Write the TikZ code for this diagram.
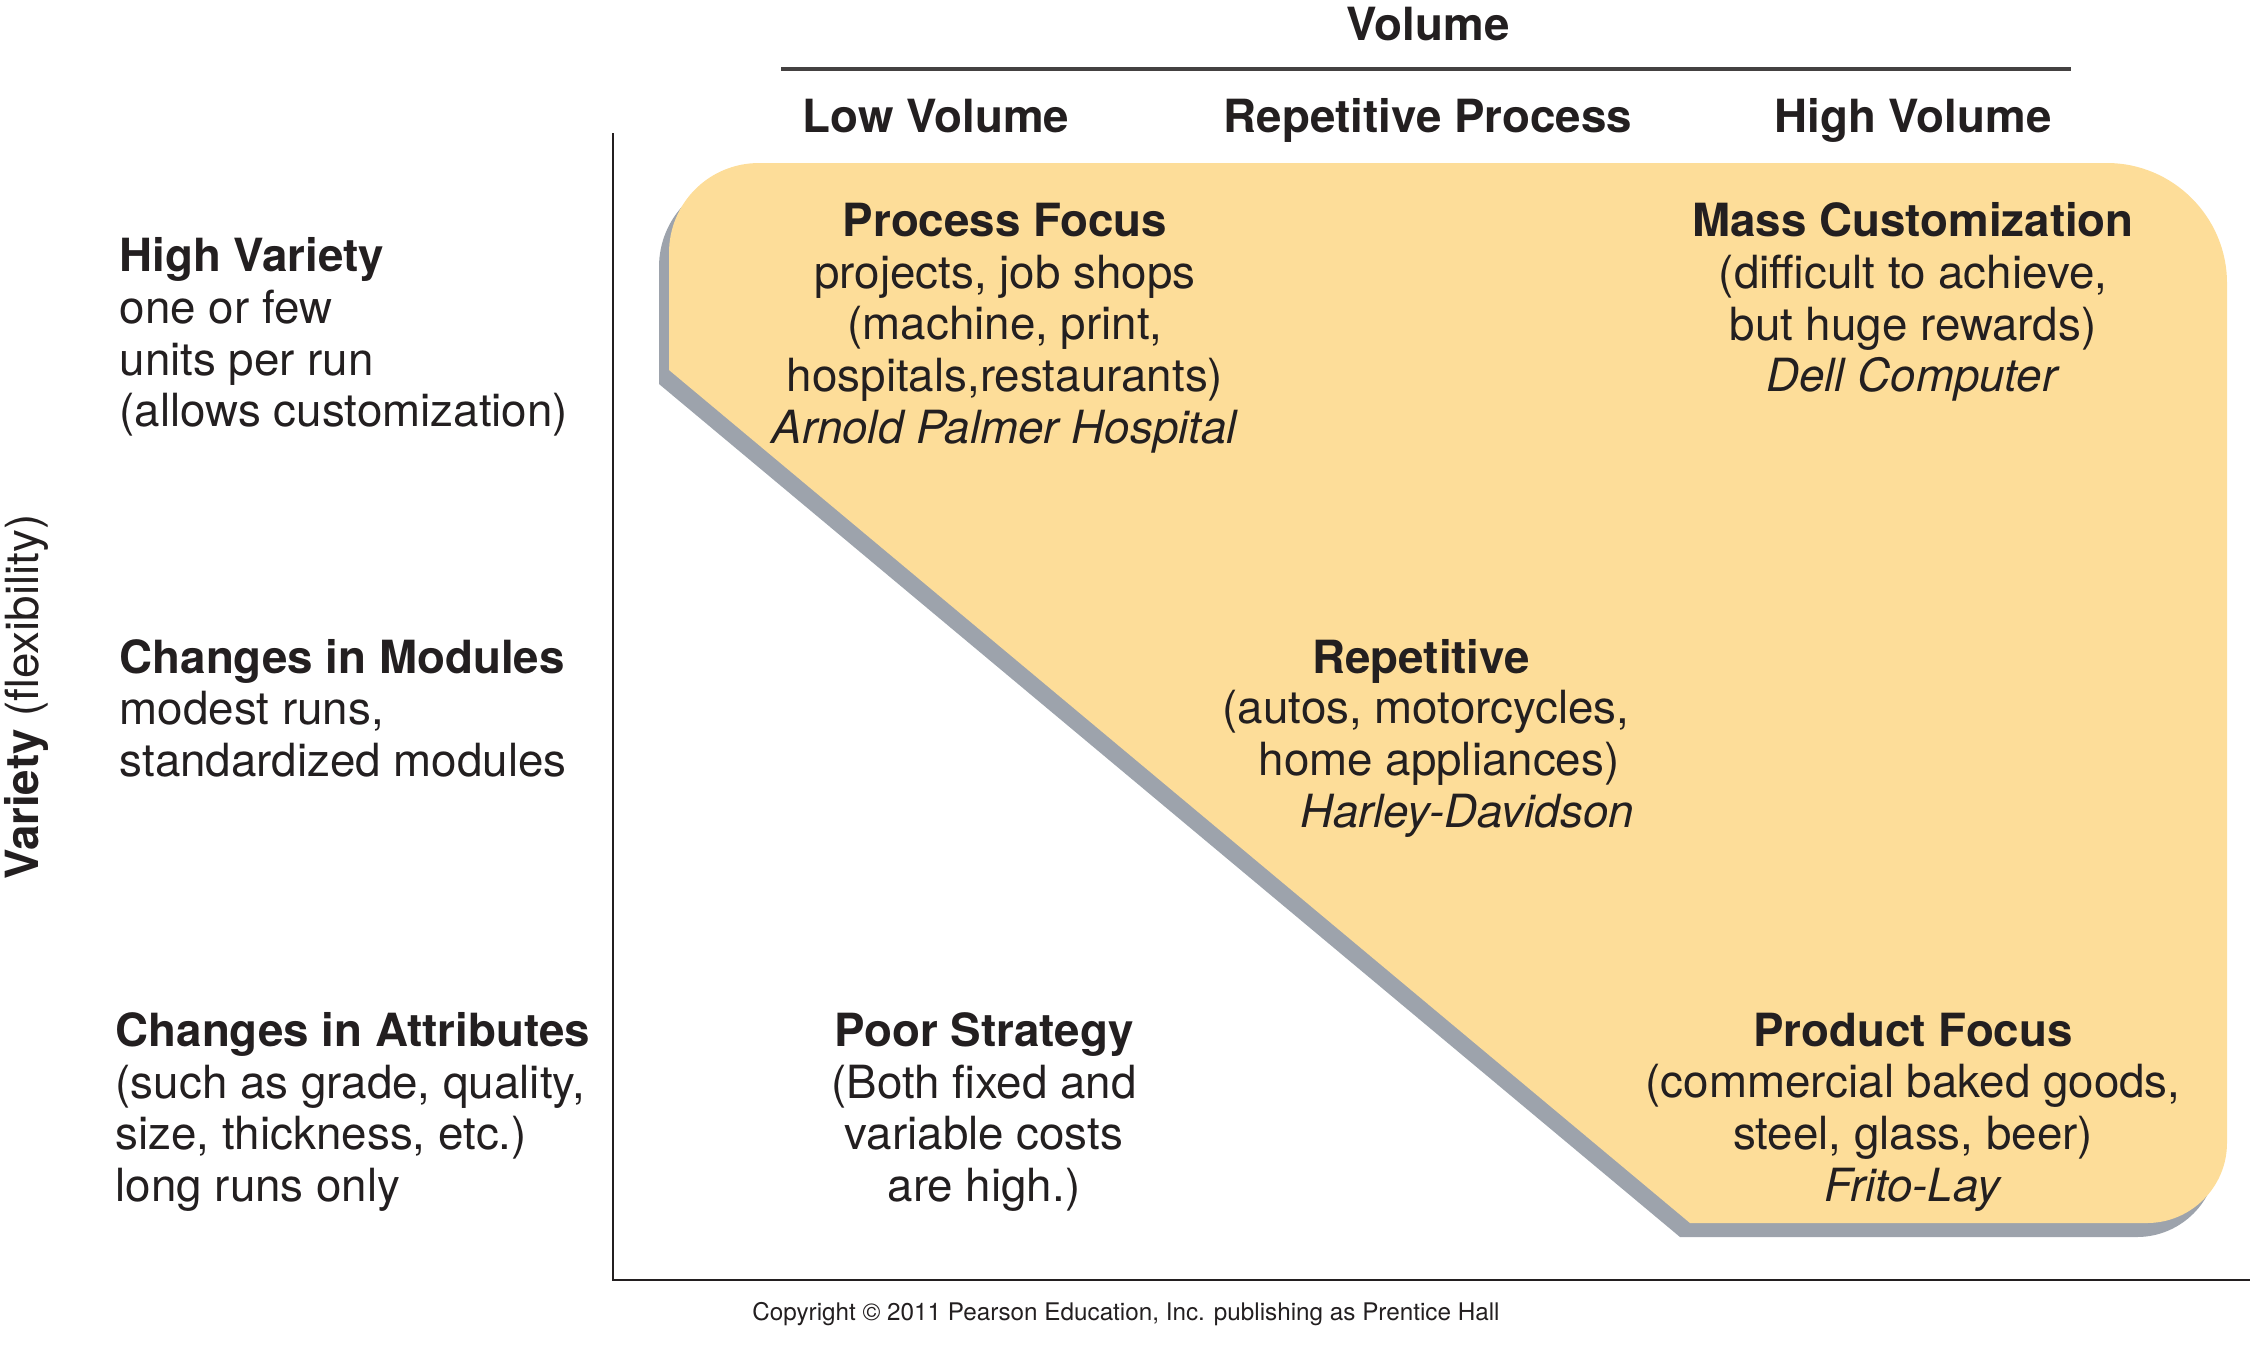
\documentclass[tikz,border=0pt]{standalone}
\usepackage{fontspec}
\setmainfont{TeX Gyre Heros}
\usepackage{tikz}

\definecolor{ink}{RGB}{35,31,32}
\definecolor{cream}{RGB}{253,221,153}
\definecolor{slate}{RGB}{157,163,172}

\newcommand{\focusregion}{(669,370) -- (669,253) .. controls (669,203) and (709,163) .. (759,163)
    -- (2107,163) .. controls (2173,163) and (2227,217) .. (2227,283)
    -- (2227,1143) .. controls (2227,1187) and (2191,1223) .. (2147,1223)
    -- (1690,1223) -- cycle}

\begin{document}
\begin{tikzpicture}[x=0.01cm, y=-0.01cm,
    txt/.style={font=\fontsize{13pt}{14.7pt}\selectfont, text=ink, inner sep=0pt, align=center},
    head/.style={txt, anchor=base},
    side/.style={txt, align=left, anchor=west},
    axis/.style={draw=ink, line width=0.8pt}]
    \useasboundingbox (0,0) rectangle (2250,1344);

    \fill[slate, shift={(-10,14)}] \focusregion;
    \fill[cream] \focusregion;

    \node[head] (vol) at (1428,40) {\textbf{Volume}};
    \coordinate (vl) at (781,69);
    \coordinate (vr) at (2071,69);
    \draw[draw=ink!85, line width=1.1pt] (vl) -- (vr);
    \node[head] (lowvol) at (936,132) {\textbf{Low Volume}};
    \node[head] (repproc) at (1428,132) {\textbf{Repetitive Process}};
    \node[head] (highvol) at (1913,132) {\textbf{High Volume}};

    \coordinate (atop) at (613,133);
    \coordinate (aorig) at (613,1280);
    \coordinate (aright) at (2250,1280);
    \draw[axis] (atop) -- (aorig) -- (aright);

    \node[txt, rotate=90] (variety) at (26,697) {\textbf{Variety} (flexibility)};

    \node[side] (hivar) at (119,337) {\textbf{High Variety}\\one or few\\units per run\\(allows customization)};
    \node[side] (modules) at (119,708) {\textbf{Changes in Modules}\\modest runs,\\standardized modules};
    \node[side] (attrib) at (115,1112) {\textbf{Changes in Attributes}\\(such as grade, quality,\\size, thickness, etc.)\\long runs only};

    \node[txt] (procfocus) at (1005,328) {\textbf{Process Focus}\\projects, job shops\\(machine, print,\\hospitals,restaurants)\\\textit{Arnold Palmer Hospital}};
    \node[txt] (masscust) at (1913,302) {\textbf{Mass Customization}\\(difficult to achieve,\\but huge rewards)\\\textit{Dell Computer}};

    \node[txt] (rep1) at (1421,661) {\textbf{Repetitive}};
    \node[txt] (rep2) at (1426,712) {(autos, motorcycles,};
    \node[txt] (rep3) at (1439,764) {home appliances)};
    \node[txt] (rep4) at (1467,816) {\textit{Harley-Davidson}};

    \node[txt] (poor) at (984,1112) {\textbf{Poor Strategy}\\(Both fixed and\\variable costs\\are high.)};
    \node[txt] (prodfocus) at (1913,1112) {\textbf{Product Focus}\\(commercial baked goods,\\steel, glass, beer)\\\textit{Frito-Lay}};

    \node[txt, font=\fontsize{6.9pt}{8pt}\selectfont] (copy) at (1126,1314) {Copyright \textcopyright{} 2011 Pearson Education, Inc. publishing as Prentice Hall};
\end{tikzpicture}
\end{document}
